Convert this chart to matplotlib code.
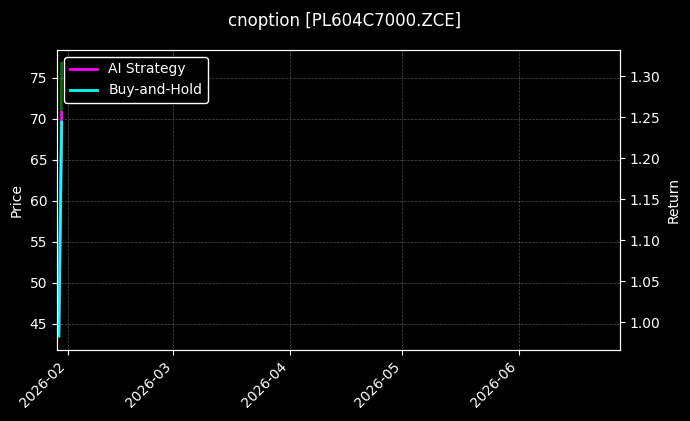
import numpy as np
import pandas as pd
import matplotlib.pyplot as plt
import matplotlib.dates as mdates

plt.style.use('dark_background')

# data (only two bars before the chart's date range runs empty)
dates = pd.to_datetime(['2026-01-29 12:00', '2026-01-30 06:00'])
price = [43.5, 76.8]
ai_strategy = [0.990, 1.256]
buy_hold = [0.983, 1.244]

fig = plt.figure(figsize=(6.9, 4.21), dpi=100)
ax1 = fig.add_axes([57/690, 71/421, 563/690, 300/421])
ax2 = ax1.twinx()

ax1.plot(dates, price, color='lime', alpha=0.45, linewidth=2)
ax2.plot(dates, ai_strategy, color='magenta', linewidth=2, label='AI Strategy')
ax2.plot(dates, buy_hold, color='cyan', linewidth=2, label='Buy-and-Hold')

ax1.set_xlim(pd.Timestamp('2026-01-29'), pd.Timestamp('2026-06-28'))
ax1.set_ylim(41.8, 78.4)
ax2.set_ylim(0.966, 1.332)

ax1.xaxis.set_major_locator(mdates.MonthLocator())
ax1.xaxis.set_major_formatter(mdates.DateFormatter('%Y-%m'))
for lbl in ax1.get_xticklabels():
  lbl.set_rotation(45)
  lbl.set_ha('right')

ax1.grid(True, linestyle='--', linewidth=0.5, color='gray', alpha=0.6)
ax1.set_ylabel('Price')
ax2.set_ylabel('Return')

ax2.legend(loc='upper left', facecolor='black', edgecolor='white', framealpha=1)
fig.suptitle('cnoption [PL604C7000.ZCE]', fontsize=12, y=0.972)

fig.savefig('out.png', dpi=100, facecolor='black')
